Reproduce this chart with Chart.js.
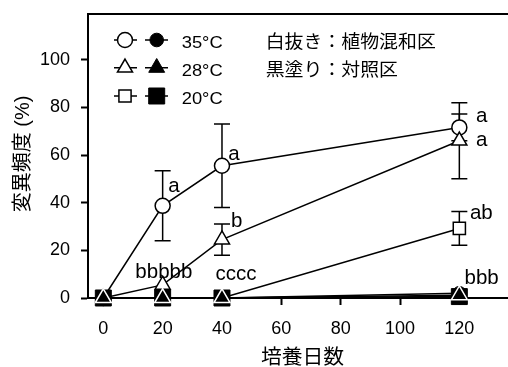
<!DOCTYPE html>
<html><head><meta charset="utf-8">
<script src="https://cdn.jsdelivr.net/npm/chart.js@4"></script>
<style>html,body{margin:0;padding:0;background:#fff}#wrap{width:508px;height:367px;position:relative}</style>
</head><body><div id="wrap"><canvas id="c" width="508" height="367"></canvas></div>
<script>
// ---- data ----
const days = [0, 20, 40, 120];
const plant35 = [0, 38.7, 55.5, 71.6];
const plant35Err = [0, 14.7, 17.5, 5.6];
const plant28 = [0, 5.5, 24.5, 66];
const plant28Err = [0, 0, 6.6, 16];
const plant20 = [0, 0, 0, 29.2];
const plant20Err = [0, 0, 0, 7.1];
const control35 = [0, 0, 0, 2.0];
const control28 = [0, 0, 0, 1.2];
const control20 = [0, 0, 0, 0.6];
const xTicks = [0, 20, 40, 60, 80, 100, 120];
const yTicks = [0, 20, 40, 60, 80, 100];
const seriesNames = ['35°C', '28°C', '20°C'];
const letterText = ['a', 'a', 'a', 'a', 'b', 'bbbbb', 'cccc', 'ab', 'bbb'];
const letterX = [23.8, 44.05, 127.5, 127.5, 45.0, 20.4, 44.7, 127.4, 127.5];
const letterY = [44.5, 58.0, 73.9, 63.9, 30.0, 8.4, 7.4, 33.2, 6.0];
const xTitle = '培養日数';
const yTitle = '変異頻度 (%)';
const noteLines = ['白抜き：植物混和区', '黒塗り：対照区'];

// ---- styles ----
const LAT = "'Liberation Sans', Arial, 'Noto Sans CJK JP', sans-serif";
const CJK = "'Liberation Sans', 'Noto Sans CJK JP', sans-serif";
const markerStyles = [
  {style: 'circle', rOpen: 7.5, rFilled: 6.8},
  {style: 'triangle', rOpen: 8.7, rFilled: 9.2},
  {style: 'rect', rOpen: 8.6, rFilled: 11.3}
];

function pts(vals) { return days.map((d, i) => ({x: d, y: vals[i]})); }
function ds(vals, ms, filled, order, pointBorder) {
  return {
    data: pts(vals), order: order, clip: false,
    borderColor: '#000', borderWidth: 1.5, tension: 0,
    pointStyle: ms.style, pointRadius: filled ? ms.rFilled : ms.rOpen,
    pointBackgroundColor: filled ? '#000' : '#fff',
    pointBorderColor: pointBorder || '#000', pointBorderWidth: filled && !pointBorder ? 1 : 1.5,
    pointHoverRadius: filled ? ms.rFilled : ms.rOpen
  };
}

function drawMarker(ctx, style, x, y, r, filled) {
  ctx.beginPath();
  if (style === 'circle') ctx.arc(x, y, r, 0, Math.PI * 2);
  else if (style === 'triangle') {
    for (let k = 0; k < 3; k++) {
      const a = k * 2 * Math.PI / 3;
      const px = x + Math.sin(a) * r, py = y - Math.cos(a) * r;
      if (k === 0) ctx.moveTo(px, py); else ctx.lineTo(px, py);
    }
    ctx.closePath();
  } else {
    const s = r * Math.SQRT1_2;
    ctx.rect(x - s, y - s, 2 * s, 2 * s);
  }
  ctx.fillStyle = filled ? '#000' : '#fff';
  ctx.fill();
  ctx.lineWidth = filled ? 1 : 1.5;
  ctx.strokeStyle = '#000';
  ctx.stroke();
}

function text(ctx, str, x, y, font, align, base, sx) {
  ctx.save();
  ctx.translate(x, y);
  ctx.scale(sx || 1, 1);
  ctx.font = font; ctx.textAlign = align; ctx.textBaseline = base; ctx.fillStyle = '#000';
  ctx.fillText(str, 0, 0);
  ctx.restore();
}

const errorBars = {
  id: 'errorBars',
  beforeDatasetsDraw(chart) {
    const {ctx, scales: {x, y}} = chart;
    ctx.save();
    ctx.strokeStyle = '#000'; ctx.lineWidth = 1.5;
    [[plant35, plant35Err], [plant28, plant28Err], [plant20, plant20Err]].forEach(([v, e]) => {
      days.forEach((d, i) => {
        if (!e[i]) return;
        const px = x.getPixelForValue(d);
        const t = y.getPixelForValue(v[i] + e[i]), b = y.getPixelForValue(v[i] - e[i]);
        ctx.beginPath();
        ctx.moveTo(px, t); ctx.lineTo(px, b);
        ctx.moveTo(px - 8, t); ctx.lineTo(px + 8, t);
        ctx.moveTo(px - 8, b); ctx.lineTo(px + 8, b);
        ctx.stroke();
      });
    });
    ctx.restore();
  }
};

const decorations = {
  id: 'decorations',
  afterDraw(chart) {
    const {ctx, chartArea: ca, scales: {x, y}} = chart;
    ctx.save();
    // top frame line
    ctx.strokeStyle = '#000'; ctx.lineWidth = 2;
    ctx.beginPath(); ctx.moveTo(ca.left - 1, ca.top); ctx.lineTo(ca.right, ca.top); ctx.stroke();
    // significance letters
    letterText.forEach((t, i) => {
      text(ctx, t, x.getPixelForValue(letterX[i]), y.getPixelForValue(letterY[i]), '20.5px ' + LAT, 'center', 'alphabetic', 1);
    });
    // legend
    const rowY = [ca.top + 26, ca.top + 53.7, ca.top + 82];
    seriesNames.forEach((nm, i) => {
      const ry = rowY[i], ms = markerStyles[i];
      ctx.strokeStyle = '#000'; ctx.lineWidth = 1.5;
      ctx.beginPath();
      ctx.moveTo(ca.left + 26, ry); ctx.lineTo(ca.left + 49, ry);
      ctx.moveTo(ca.left + 57, ry); ctx.lineTo(ca.left + 80, ry);
      ctx.stroke();
      drawMarker(ctx, ms.style, ca.left + 37, ry, ms.rOpen, false);
      drawMarker(ctx, ms.style, ca.left + 68.7, ry, ms.rFilled, true);
      text(ctx, nm, ca.left + 93.7, ry + 8, '17px ' + LAT, 'left', 'alphabetic', 1.08);
    });
    // notes
    text(ctx, noteLines[0], 265.7, 43, '18px ' + CJK, 'left', 'middle', 1.05);
    text(ctx, noteLines[1], 265.7, 71, '18px ' + CJK, 'left', 'middle', 1.05);
    // axis titles
    text(ctx, xTitle, 302.5, 358, '20px ' + CJK, 'center', 'middle', 1.04);
    ctx.save();
    ctx.translate(23, 154);
    ctx.rotate(-Math.PI / 2);
    text(ctx, yTitle, 0, 0, '20px ' + CJK, 'center', 'middle', 1);
    ctx.restore();
    ctx.restore();
  }
};

Chart.defaults.font.family = LAT;
Chart.defaults.color = '#000';

new Chart(document.getElementById('c'), {
  type: 'line',
  data: {
    datasets: [
      ds(plant35, markerStyles[0], false, 6),
      ds(plant28, markerStyles[1], false, 5),
      ds(plant20, markerStyles[2], false, 4),
      ds(control35, markerStyles[0], true, 3),
      ds(control20, markerStyles[2], true, 2),
      ds(control28, markerStyles[1], true, 1, '#fff')
    ]
  },
  options: {
    responsive: false, devicePixelRatio: 1, animation: false,
    events: [],
    layout: {autoPadding: false, padding: {left: 0, top: 14, right: 0, bottom: 0}},
    plugins: {legend: {display: false}, tooltip: {enabled: false}},
    scales: {
      x: {
        type: 'linear', min: -5.16, max: 136.4,
        afterFit(s) { s.height = 69; s.paddingLeft = 0; s.paddingRight = 0; },
        afterBuildTicks(s) { s.ticks = xTicks.map(v => ({value: v})); },
        grid: {drawOnChartArea: false, drawTicks: true, tickLength: 7, tickColor: '#000', tickWidth: 2},
        border: {display: true, color: '#000', width: 2},
        ticks: {padding: 13, font: {size: 18, family: LAT}, color: '#000', maxRotation: 0}
      },
      y: {
        type: 'linear', min: 0, max: 119.2,
        afterFit(s) { s.width = 88; s.paddingTop = 0; s.paddingBottom = 0; },
        afterBuildTicks(s) { s.ticks = yTicks.map(v => ({value: v})); },
        grid: {drawOnChartArea: false, drawTicks: true, tickLength: 7, tickColor: '#000', tickWidth: 2},
        border: {display: true, color: '#000', width: 2},
        ticks: {padding: 11, font: {size: 18, family: LAT}, color: '#000'}
      }
    }
  },
  plugins: [errorBars, decorations]
});
</script>
</body></html>
